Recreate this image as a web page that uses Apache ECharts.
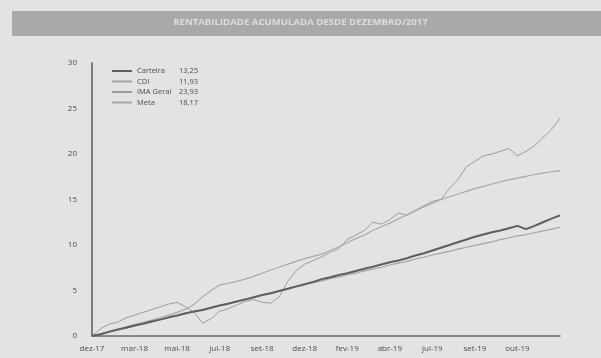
<!DOCTYPE html>
<html>
<head>
<meta charset="utf-8">
<script src="https://cdn.jsdelivr.net/npm/echarts@6/dist/echarts.min.js"></script>
<style>
  html, body { margin: 0; padding: 0; background: #e3e3e1; }
  #chart { width: 601px; height: 358px; }
</style>
</head>
<body>
<div id="chart"></div>
<script>
// Month labels shown every 5 observations along the horizontal axis
const tickLabels = ['dez-17', 'mar-18', 'mai-18', 'jul-18', 'set-18', 'dez-18',
                    'fev-19', 'abr-19', 'jul-19', 'set-19', 'out-19'];
const labelStep = 5;

// Accumulated return (%) since December 2017, one value per observation
const carteira = [0, 0.2, 0.45, 0.7, 0.9, 1.15, 1.35, 1.6, 1.8, 2.05,
  2.25, 2.5, 2.7, 2.85, 3.1, 3.35, 3.55, 3.8, 4.0, 4.25,
  4.5, 4.7, 4.95, 5.2, 5.45, 5.7, 5.95, 6.25, 6.45, 6.7,
  6.9, 7.15, 7.4, 7.6, 7.85, 8.1, 8.3, 8.55, 8.85, 9.1,
  9.4, 9.7, 10.0, 10.3, 10.6, 10.9, 11.15, 11.4, 11.6, 11.85,
  12.1, 11.75, 12.1, 12.5, 12.9, 13.25];
const cdi = [0, 0.2, 0.45, 0.65, 0.9, 1.1, 1.35, 1.55, 1.8, 2.0,
  2.25, 2.45, 2.7, 2.9, 3.15, 3.35, 3.6, 3.8, 4.05, 4.25,
  4.5, 4.7, 4.95, 5.15, 5.4, 5.6, 5.85, 6.05, 6.3, 6.5,
  6.7, 6.9, 7.15, 7.35, 7.55, 7.8, 8.0, 8.2, 8.45, 8.65,
  8.9, 9.1, 9.3, 9.55, 9.75, 9.95, 10.15, 10.35, 10.6, 10.8,
  11.0, 11.15, 11.35, 11.55, 11.75, 11.93];
const imaGeral = [0, 0.8, 1.3, 1.5, 2.0, 2.3, 2.6, 2.9, 3.2, 3.5,
  3.7, 3.2, 2.6, 1.4, 1.9, 2.7, 3.0, 3.4, 3.8, 4.0,
  3.7, 3.6, 4.3, 6.0, 7.2, 7.9, 8.3, 8.7, 9.2, 9.6,
  10.6, 11.1, 11.6, 12.5, 12.3, 12.8, 13.5, 13.3, 13.8, 14.3,
  14.8, 15.0, 16.2, 17.2, 18.6, 19.2, 19.8, 20.0, 20.3, 20.6,
  19.8, 20.3, 20.9, 21.8, 22.7, 23.93];
const meta = [0, 0.25, 0.5, 0.75, 1.0, 1.25, 1.5, 1.75, 2.0, 2.3,
  2.6, 2.95, 3.5, 4.3, 5.0, 5.6, 5.8, 6.0, 6.25, 6.55,
  6.9, 7.25, 7.55, 7.9, 8.2, 8.5, 8.75, 9.0, 9.4, 9.8,
  10.25, 10.7, 11.1, 11.6, 12.0, 12.4, 12.85, 13.3, 13.75, 14.2,
  14.6, 15.0, 15.3, 15.6, 15.9, 16.2, 16.45, 16.7, 16.95, 17.15,
  17.35, 17.55, 17.75, 17.9, 18.05, 18.17];

const seriesNames = ['Carteira', 'CDI', 'IMA Geral', 'Meta'];
const seriesValues = [carteira, cdi, imaGeral, meta];

const lineColors = ['#5e5e5e', '#a3a3a3', '#9c9c9c', '#a8a8a8'];
const lineWidths = [2, 1.2, 1, 1.2];

const lastValue = {};
seriesNames.forEach((n, k) => {
  const arr = seriesValues[k];
  lastValue[n] = arr[arr.length - 1].toFixed(2).replace('.', ',');
});

const chart = echarts.init(document.getElementById('chart'), null, { renderer: 'canvas' });
const font = "'Open Sans', 'Noto Sans', sans-serif";

chart.setOption({
  backgroundColor: '#e3e3e1',
  animation: false,
  textStyle: { fontFamily: font },
  graphic: [
    {
      type: 'rect',
      left: 12, top: 11,
      shape: { width: 589, height: 25 },
      style: { fill: '#a9a9a8' },
      silent: true
    },
    {
      type: 'text',
      left: 'center', top: 17,
      style: {
        text: 'RENTABILIDADE ACUMULADA DESDE DEZEMBRO/2017',
        fill: '#dcdcda',
        font: "bold 9.6px " + font
      },
      silent: true
    }
  ],
  grid: { left: 92, right: 41, top: 63, bottom: 22, containLabel: false },
  legend: {
    orient: 'vertical',
    left: 107, top: 62,
    icon: 'rect',
    itemWidth: 20, itemHeight: 2,
    itemGap: 2.5,
    data: seriesNames,
    textStyle: {
      fontSize: 7.5, color: '#4c4c4c', lineHeight: 8,
      rich: {
        n: { width: 42, fontSize: 7.5, color: '#4c4c4c' },
        v: { fontSize: 7.5, color: '#4c4c4c' }
      }
    },
    formatter: name => '{n|' + name + '}{v|' + lastValue[name] + '}'
  },
  xAxis: {
    type: 'value',
    min: 0, max: carteira.length - 1, interval: labelStep,
    axisLine: { show: true, lineStyle: { color: '#6c6c6c', width: 1.5 } },
    axisTick: { show: false },
    splitLine: { show: false },
    axisLabel: {
      color: '#4c4c4c', fontSize: 8, margin: 9,
      formatter: v => (v % labelStep === 0 && tickLabels[v / labelStep]) ? tickLabels[v / labelStep] : ''
    }
  },
  yAxis: {
    type: 'value',
    min: 0, max: 30, interval: 5,
    axisLine: { show: true, lineStyle: { color: '#5a5a5a', width: 1.5 } },
    axisTick: { show: false },
    splitLine: { show: false },
    axisLabel: { color: '#4c4c4c', fontSize: 8, margin: 15 }
  },
  series: seriesNames.map((n, k) => ({
    name: n,
    type: 'line',
    data: seriesValues[k].map((v, i) => [i, v]),
    symbol: 'none',
    z: k === 0 ? 5 : 3,
    itemStyle: { color: lineColors[k] },
    lineStyle: { color: lineColors[k], width: lineWidths[k] }
  }))
});
</script>
</body>
</html>
